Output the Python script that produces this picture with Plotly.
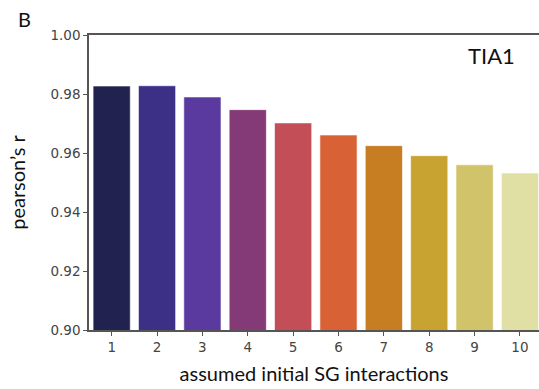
import plotly.graph_objects as go

# assumed number of initial SG interactions and the resulting correlation
interactions = [1, 2, 3, 4, 5, 6, 7, 8, 9, 10]
pearson_r = [0.9827, 0.9828, 0.9790, 0.9747, 0.9702, 0.9661, 0.9625, 0.9591, 0.9560, 0.9532]
bar_colors = ["#222250", "#3b2f86", "#5a3a9e", "#853a78", "#c34e57",
              "#d86135", "#c77d22", "#c8a332", "#d0c36a", "#e0dfa4"]
y_ticks = [0.90, 0.92, 0.94, 0.96, 0.98, 1.00]

fig = go.Figure(go.Bar(
    x=interactions,
    y=pearson_r,
    marker=dict(color=bar_colors, line=dict(color="rgba(255,255,255,0.6)", width=1)),
    showlegend=False,
))

axis_font = dict(family="DejaVu Sans", size=13.5, color="#444444")
title_font = dict(family="Lato", size=20, color="#111111")

fig.update_layout(
    width=539, height=389,
    margin=dict(l=89, r=0, t=35, b=59),
    paper_bgcolor="white", plot_bgcolor="white",
    bargap=0.18,
    xaxis=dict(
        range=[0.5, 10.42],
        tickmode="array", tickvals=interactions, ticktext=[str(v) for v in interactions],
        showline=True, linecolor="#555555", linewidth=1.5, mirror=True,
        ticks="outside", ticklen=4, tickcolor="#555555",
        showgrid=False, zeroline=False,
        tickfont=axis_font,
        title=dict(text="assumed initial SG interactions", font=title_font, standoff=13),
    ),
    yaxis=dict(
        range=[0.90, 1.00],
        tickmode="array", tickvals=y_ticks, ticktext=[f"{v:.2f}" for v in y_ticks],
        showline=True, linecolor="#555555", linewidth=1.5,
        ticks="outside", ticklen=4, tickcolor="#555555",
        showgrid=False, zeroline=False,
        tickfont=axis_font,
        title=dict(text="pearson’s r", font=title_font, standoff=19),
    ),
    annotations=[
        dict(text="B", xref="paper", yref="paper", x=-0.144, y=1.055,
             xanchor="center", yanchor="middle", showarrow=False,
             font=dict(family="Lato", size=20, color="#111111")),
        dict(text="TIA1", xref="paper", yref="paper", x=0.894, y=0.93,
             xanchor="center", yanchor="middle", showarrow=False,
             font=dict(family="Lato", size=22, color="#111111")),
    ],
)

fig.write_html("out.html")
